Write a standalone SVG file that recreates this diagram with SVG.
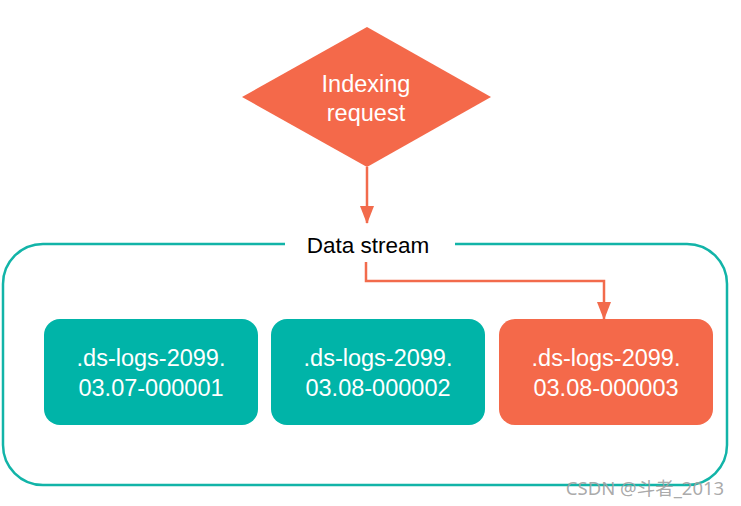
<svg xmlns="http://www.w3.org/2000/svg" width="741" height="506" viewBox="0 0 741 506">
<style>
.t{font-family:"Liberation Sans",Arial,sans-serif;font-size:23.5px;text-anchor:middle}
.w{fill:#ffffff}
.teal{fill:#00b4a8}
.or{fill:#f4694a}
.con{fill:none;stroke:#f26b4c;stroke-width:2.5}
</style>
<defs>
<marker id="arr" markerWidth="18" markerHeight="14" refX="17" refY="7" orient="auto" markerUnits="userSpaceOnUse">
<path d="M0,0 L18,7 L0,14 Z" fill="#f26b4c"/>
</marker>
</defs>
<rect width="741" height="506" fill="#ffffff"/>
<g id="container">
<path d="M285,244 H43 A40,40 0 0 0 3,284 V445 A40,40 0 0 0 43,485 H687 A40,40 0 0 0 727,445 V284 A40,40 0 0 0 687,244 H455" fill="none" stroke="#12b4a8" stroke-width="2.5"/>
<text class="t" x="368" y="253" fill="#000000" style="font-size:22.5px">Data stream</text>
</g>
<g id="request">
<polygon points="367,27 491,97 367,167 242,97" class="or"/>
<text class="t w" x="366" y="92">Indexing</text>
<text class="t w" x="366" y="121">request</text>
</g>
<g id="idx1">
<rect x="44" y="319" width="214" height="106" rx="16" class="teal"/>
<text class="t w" x="151" y="366">.ds-logs-2099.</text>
<text class="t w" x="151" y="396">03.07-000001</text>
</g>
<g id="idx2">
<rect x="271" y="319" width="214" height="106" rx="16" class="teal"/>
<text class="t w" x="378" y="366">.ds-logs-2099.</text>
<text class="t w" x="378" y="396">03.08-000002</text>
</g>
<g id="idx3">
<rect x="499" y="319" width="214" height="106" rx="16" class="or"/>
<text class="t w" x="606" y="366">.ds-logs-2099.</text>
<text class="t w" x="606" y="396">03.08-000003</text>
</g>
<g id="connectors">
<path class="con" d="M367,167 V223" marker-end="url(#arr)"/>
<path class="con" d="M366,262 V281 H604 V319" marker-end="url(#arr)"/>
</g>
<text x="645" y="495" style="font-family:'Noto Sans','Noto Sans CJK SC',sans-serif;font-size:18.5px;text-anchor:middle" fill="#a0a0a0" fill-opacity="0.9">CSDN @斗者_2013</text>
</svg>
